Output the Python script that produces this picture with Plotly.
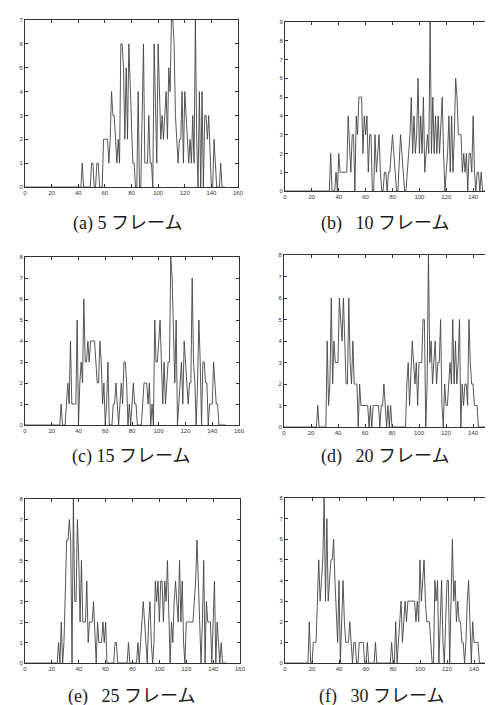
import plotly.graph_objects as go

# ---- data: object counts per frame (index = frame number) ----
frames_5 = [
    0,0,0,0,0,0,0,0,0,0,
    0,0,0,0,0,0,0,0,0,0,
    0,0,0,0,0,0,0,0,0,0,
    0,0,0,0,0,0,0,0,0,0,
    0,0,0,1,0,0,0,0,0,0,
    1,1,0,0,1,1,0,0,0,2,
    2,2,2,1,2,4,3,3,2,1,
    2,1,6,6,5,2,5,2,6,4,
    2,1,1,0,0,4,0,0,3,6,
    1,1,1,3,1,1,0,6,4,1,
    6,4,2,3,2,3,4,2,5,4,
    7,7,6,3,2,1,2,2,4,1,
    4,3,2,1,2,1,3,1,7,2,
    0,4,0,4,0,3,3,2,3,1,
    0,0,2,1,0,0,0,1,0,0,
    0]
frames_10 = [
    0,0,0,0,0,0,0,0,0,0,
    0,0,0,0,0,0,0,0,0,0,
    0,0,0,0,0,0,0,0,0,0,
    0,0,0,0,2,0,0,0,1,0,
    2,1,1,1,1,1,1,4,2,1,
    3,3,0,4,3,5,5,5,2,4,
    3,4,1,3,3,0,0,3,1,2,
    3,1,0,0,1,1,0,1,1,2,
    3,2,1,0,0,2,3,2,1,0,
    0,1,2,3,5,2,4,2,3,6,
    2,4,2,5,1,2,3,2,9,2,
    5,2,4,2,4,2,4,5,2,0,
    1,2,4,1,4,1,3,6,5,3,
    3,3,1,2,1,2,0,2,2,1,
    4,1,0,1,1,0,1,0,0,0,
    0]
frames_15 = [
    0,0,0,0,0,0,0,0,0,0,
    0,0,0,0,0,0,0,0,0,0,
    0,0,0,0,0,0,0,1,0,0,
    0,1,2,1,4,1,1,1,1,5,
    0,2,3,2,6,3,3,4,3,4,
    4,4,4,3,2,2,4,3,1,2,
    0,1,3,0,0,0,1,1,2,1,
    0,1,2,1,3,3,2,0,1,0,
    1,2,1,1,0,0,0,0,1,2,
    2,2,1,2,0,1,0,5,3,3,
    4,5,3,1,3,1,2,3,3,8,
    7,5,2,5,0,1,2,3,1,4,
    3,2,1,2,2,7,3,2,0,2,
    5,3,0,3,3,2,2,0,1,1,
    1,3,2,1,1,0,0,0,0,0,
    0]
frames_20 = [
    0,0,0,0,0,0,0,0,0,0,
    0,0,0,0,0,0,0,0,0,0,
    0,0,0,0,0,1,0,0,0,0,
    0,0,4,1,2,6,2,4,3,3,
    3,6,5,4,6,4,2,2,6,3,
    2,4,2,2,2,0,2,1,1,1,
    1,1,1,0,1,0,1,1,1,1,
    1,0,1,1,2,1,0,1,0,1,
    0,0,0,0,0,0,0,0,0,0,
    0,2,3,1,3,4,3,2,3,1,
    3,3,3,5,5,0,2,8,3,4,
    2,3,4,2,3,3,5,1,0,2,
    1,1,2,3,2,5,2,4,2,3,
    5,0,2,1,2,2,1,5,3,2,
    2,1,1,1,0,0,0,0,0,0,
    0]
frames_25 = [
    0,0,0,0,0,0,0,0,0,0,
    0,0,0,0,0,0,0,0,0,0,
    0,0,0,0,0,1,0,2,0,1,
    4,6,6,7,6,0,8,3,3,7,
    5,2,5,2,2,2,4,1,2,2,
    2,3,1,0,2,1,1,1,2,1,
    2,0,0,0,0,0,0,1,1,0,
    0,0,0,0,0,0,0,1,0,0,
    0,0,0,0,1,0,1,2,3,2,
    1,0,2,3,1,0,1,4,3,4,
    2,4,4,2,4,3,5,3,0,2,
    1,3,4,3,2,5,2,4,1,0,
    2,2,2,2,2,2,3,4,6,4,
    3,0,2,5,0,3,2,2,2,0,
    2,4,0,2,1,0,1,0,0,0,
    0]
frames_30 = [
    0,0,0,0,0,0,0,0,0,0,
    0,0,0,0,0,0,0,0,2,0,
    0,1,1,1,3,5,3,4,5,8,
    3,7,3,4,5,5,6,4,2,1,
    4,0,2,4,2,1,1,1,2,1,
    0,1,1,0,0,1,1,1,1,0,
    0,1,0,0,0,0,0,1,0,0,
    0,0,0,0,0,0,0,0,0,1,
    0,0,2,0,1,2,3,1,2,3,
    2,3,3,3,3,3,3,2,3,2,
    5,3,4,5,3,2,2,2,1,0,
    0,4,3,4,0,2,4,1,0,2,
    4,4,0,3,6,3,4,2,3,2,
    2,1,1,0,1,3,4,2,0,2,
    1,1,1,1,0,0,0,0,0,0,
    0]

series = [frames_5, frames_10, frames_15, frames_20, frames_25, frames_30]
y_max = [7, 9, 8, 8, 8, 8]
captions = ["(a) 5 フレーム", "(b)\u2002 10 フレーム", "(c) 15 フレーム",
            "(d)\u2002 20 フレーム", "(e)\u2002 25 フレーム", "(f)\u2002 30 フレーム"]
x_ticks = [0, 20, 40, 60, 80, 100, 120, 140, 160]

# ---- layout (pixel geometry of the 493x705 page) ----
W, H = 493, 705
# plot-area boxes: left, right, top, bottom (px)
boxes = [
    (17, 230, 12, 179),
    (277, 492, 14, 183),
    (17, 231, 249, 417),
    (276, 492, 247, 419),
    (17, 232, 491, 655),
    (277, 494, 490, 655),
]
cap_pos = [(119, 215), (377, 215), (123, 448), (377, 448), (123, 688), (373, 688)]

fig = go.Figure()
layout = dict(
    width=W, height=H,
    margin=dict(l=0, r=0, t=0, b=0),
    paper_bgcolor="white", plot_bgcolor="white",
    showlegend=False, template="none",
    annotations=[],
)

for i, (vals, box) in enumerate(zip(series, boxes)):
    n = i + 1
    xa = "x" if n == 1 else f"x{n}"
    ya = "y" if n == 1 else f"y{n}"
    fig.add_trace(go.Scatter(
        x=list(range(len(vals))), y=vals, mode="lines",
        line=dict(color="#444444", width=0.9),
        xaxis=xa, yaxis=ya, hoverinfo="skip",
    ))
    l, r, t, b = box
    common = dict(
        showline=True, linecolor="#333", linewidth=1, mirror="ticks",
        ticks="inside", ticklen=3, tickwidth=1, tickcolor="#333",
        showgrid=False, zeroline=False, automargin=False,
        tickfont=dict(family="Liberation Sans, Arial", size=6, color="#333"),
    )
    layout["xaxis" if n == 1 else f"xaxis{n}"] = dict(
        common, domain=[l / W, min(r / W, 1.0)], range=[0, 160],
        tickvals=x_ticks, anchor=ya,
    )
    layout["yaxis" if n == 1 else f"yaxis{n}"] = dict(
        common, domain=[1 - b / H, 1 - t / H], range=[0, y_max[i]],
        dtick=1, anchor=xa,
    )
    cx, cy = cap_pos[i]
    layout["annotations"].append(dict(
        text=captions[i], x=cx / W, y=1 - cy / H, xref="paper", yref="paper",
        xanchor="center", yanchor="middle", showarrow=False,
        font=dict(family="Liberation Serif, Noto Sans CJK JP", size=18, color="#1a1a1a"),
    ))

fig.update_layout(**layout)
fig.write_html("out.html")
